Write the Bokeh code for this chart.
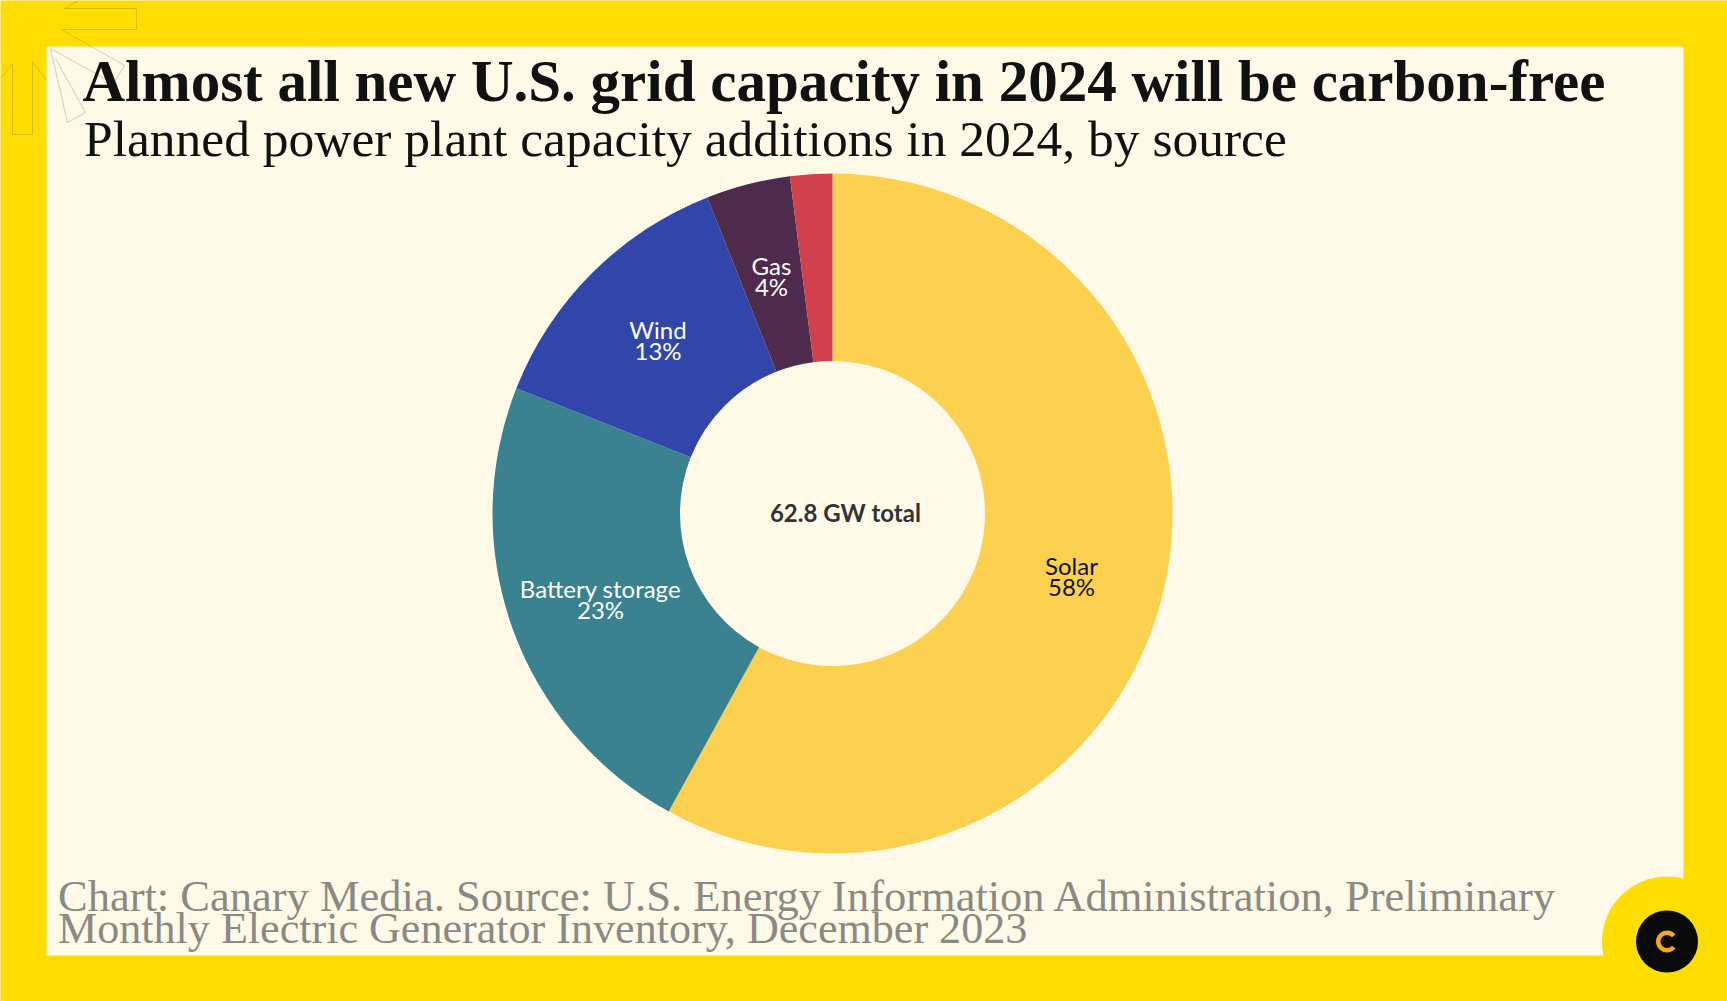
from bokeh.core.properties import value
from bokeh.embed import file_html
from bokeh.models import BoxAnnotation, ColumnDataSource, Range1d
from bokeh.plotting import figure
from bokeh.resources import INLINE
import math

# Data
categories = ["Solar", "Battery storage", "Wind", "Gas", "Other"]
shares = [58, 23, 13, 4, 2]
colors = ["#FBD14F", "#3A8290", "#3145AB", "#4E2A4C", "#D2404D"]
label_colors = ["#111111", "#FFFFFF", "#FFFFFF", "#FFFFFF", None]
center_text = "62.8 GW total"
title = "Almost all new U.S. grid capacity in 2024 will be carbon-free"
subtitle = "Planned power plant capacity additions in 2024, by source"
source_lines = ["Chart: Canary Media. Source:  U.S. Energy Information Administration, Preliminary",
                "Monthly Electric Generator Inventory, December 2023"]

YELLOW = "#FFDD00"
CREAM = "#FFFAE8"
W, H = 1727, 1001
CX, CY, R_OUT, R_IN = 832, 513, 340, 152.5

p = figure(width=W, height=H, output_backend="svg", toolbar_location=None,
           x_range=Range1d(0, W), y_range=Range1d(-H, 0),
           min_border=0, background_fill_color=YELLOW, border_fill_color=YELLOW,
           outline_line_color=None)
p.axis.visible = False
p.grid.visible = False

def Y(v):
    return -v

# cream panel and the bite at the corner
p.add_layout(BoxAnnotation(left=46, right=1683, top=Y(46), bottom=Y(955),
                           fill_color=CREAM, fill_alpha=1, line_color=None, level="underlay"))
p.circle(x=[1666.5], y=[Y(941)], radius=65, fill_color=YELLOW, line_color=None)
p.rect(x=[1692], y=[Y(980)], width=70, height=50, fill_color=YELLOW, line_color=None)
p.circle(x=[1666.5], y=[Y(941)], radius=31, fill_color="#0A0A0A", line_color=None)
p.annular_wedge(x=[1666.5], y=[Y(941)], inner_radius=6.5, outer_radius=11,
                start_angle=[math.radians(40)], end_angle=[math.radians(320)],
                fill_color="#F5A81C", line_color=None)

# outline arrows
dec_y = "#D9BC10"
dec_c = "#D8D5C8"
p.line([78, 64, 136, 136, 61, 91], [Y(v) for v in [0, 8, 8, 29, 29, 46]], line_color=dec_y, line_width=1)
p.line([0, 12, 12, 32, 32, 46], [Y(v) for v in [78, 63, 134, 134, 61, 80]], line_color=dec_y, line_width=1)
p.line([91, 124, 113, 50, 67, 85, 55], [Y(v) for v in [46, 65, 83, 48, 122, 112, 58]],
       line_color=dec_c, line_width=1.2)

# donut
total = sum(shares)
ends, acc = [], 0
for s in shares:
    acc += s
    ends.append(acc)
starts = [e - s for e, s in zip(ends, shares)]
to_angle = lambda f: math.pi / 2 - 2 * math.pi * f / total
src = ColumnDataSource(dict(
    start=[to_angle(e) for e in ends], end=[to_angle(s) for s in starts], color=colors))
p.annular_wedge(x=CX, y=Y(CY), inner_radius=R_IN, outer_radius=R_OUT,
                start_angle="start", end_angle="end", fill_color="color", line_color=None, source=src)

LABEL_FONT = value("Lato")
label_pos = {"Solar": (1071, 565), "Battery storage": (600, 588), "Wind": (657.5, 329), "Gas": (771, 265)}
for cat, s, col in zip(categories, shares, label_colors):
    if cat not in label_pos:
        continue
    x, y = label_pos[cat]
    p.text([x], [Y(y)], text=[cat], text_color=col, text_font=LABEL_FONT, text_font_size="24px",
           text_align="center", text_baseline="middle")
    p.text([x], [Y(y + 21)], text=[f"{s}%"], text_color=col, text_font=LABEL_FONT, text_font_size="24px",
           text_align="center", text_baseline="middle")
p.text([845], [Y(511.5)], text=[center_text], text_color="#333333", text_font=LABEL_FONT,
       text_font_style="bold", text_font_size="24px", text_align="center", text_baseline="middle")

SERIF = value("Liberation Serif")
p.text([82], [Y(80)], text=[title], text_color="#111111", text_font=SERIF, text_font_style="bold",
       text_font_size="59px", text_align="left", text_baseline="middle")
p.text([83.5], [Y(138)], text=[subtitle], text_color="#111111", text_font=SERIF,
       text_font_size="51.5px", text_align="left", text_baseline="middle")
for line, y, size in zip(source_lines, [895, 927.5], ["44.5px", "44.1px"]):
    p.text([57.5], [Y(y)], text=[line], text_color="#8A8A84", text_font=SERIF,
           text_font_size=size, text_align="left", text_baseline="middle")

open("out.html", "w").write(file_html(p, INLINE))
